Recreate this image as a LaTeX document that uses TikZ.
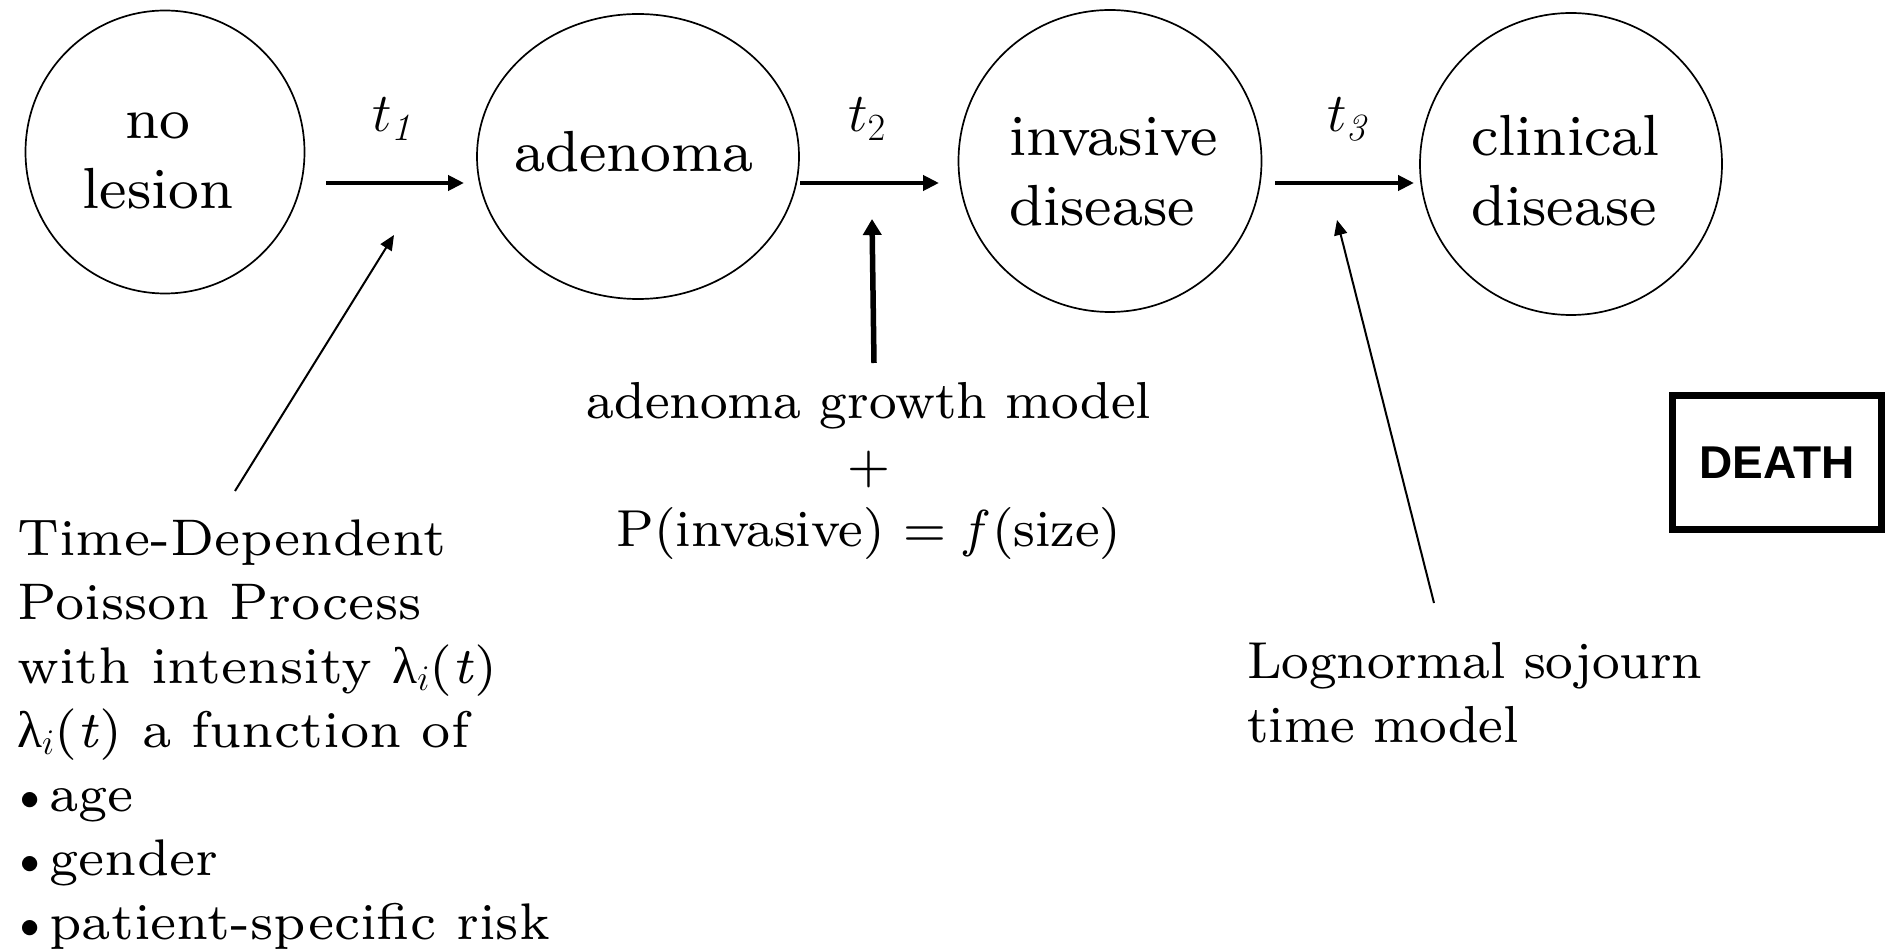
\RequirePackage{fix-cm}
\documentclass[tikz,border=0pt]{standalone}
\usepackage{fontspec}
\newfontfamily\deathfont{Liberation Sans}
\newfontfamily\greekfont{Liberation Serif}
\newfontfamily\lmseven{lmroman7-regular.otf}[ItalicFont=lmroman7-italic.otf]
\newfontfamily\lmeight{lmroman8-regular.otf}[ItalicFont=lmroman8-italic.otf]
\usetikzlibrary{shapes.geometric,arrows.meta}
\newcommand{\lamit}{{\greekfont λ}$_{i}$(\textit{t})}
\newcommand{\bul}{\kern-10pt\textbullet\kern-3pt}
\begin{document}
\begin{tikzpicture}[x=1pt,y=-1pt,
  state/.style={draw, ellipse, line width=1.7pt, inner sep=0pt},
  stext/.style={font={\lmeight\fontsize{58}{70}\selectfont}, inner sep=0pt},
  ann/.style={font={\lmeight\fontsize{52}{64}\selectfont}, inner sep=0pt},
  pann/.style={font={\lmseven\fontsize{51.5}{64}\selectfont}, inner sep=0pt},
  tlab/.style={font=\fontsize{55}{60}\selectfont, inner sep=0pt, anchor=base},
  trans/.style={line width=4pt, -{Triangle[length=16pt,width=15pt]}},
  thinarrow/.style={line width=2pt, -{Triangle[length=15pt,width=13pt]}},
  thickarrow/.style={line width=5.5pt, -{Triangle[length=16pt,width=18pt]}},
  deathbox/.style={draw, line width=7pt, minimum width=209pt, minimum height=134pt, inner sep=0pt, font=\deathfont\bfseries\fontsize{46}{50}\selectfont},
]
\useasboundingbox (0,0) rectangle (1891,949);

% states
\node[state, minimum width=279pt, minimum height=283pt] (nl) at (165,152) {};
\node[state, minimum width=322pt, minimum height=285pt] (ad) at (638,156.5) {};
\node[state, minimum width=303pt, minimum height=302pt] (inv) at (1110,161) {};
\node[state, minimum width=302pt, minimum height=302pt] (cl) at (1571,164) {};

\node[stext, anchor=north, align=center] (nltext) at (158,90) {\rule{0pt}{48pt}no\\lesion};
\node[stext, anchor=base] (adtext) at (634,172) {adenoma};
\node[stext, anchor=north west, align=left] (invtext) at (1009,107) {\rule{0pt}{48pt}invasive\\disease};
\node[stext, anchor=north west, align=left] (cltext) at (1471,107) {\rule{0pt}{48pt}clinical\\disease};

% transitions
\coordinate (a1s) at (326,183); \coordinate (a1e) at (464,183);
\coordinate (a2s) at (800,183); \coordinate (a2e) at (939,183);
\coordinate (a3s) at (1275,183); \coordinate (a3e) at (1414,183);
\draw[trans] (a1s) -- (a1e);
\draw[trans] (a2s) -- (a2e);
\draw[trans] (a3s) -- (a3e);

\node[tlab] (t1) at (392,132) {$t_{\mathit{1}}$};
\node[tlab] (t2) at (867,132) {$t_2$};
\node[tlab] (t3) at (1347,132) {$t_{\mathit{3}}$};

% death
\node[deathbox] (death) at (1777,462.5) {DEATH};

% annotations
\node[pann, anchor=north west, align=left] (pois) at (17,507)
  {\rule{0pt}{48pt}Time-Dependent\\
   Poisson Process\\
   with intensity \lamit\\
   \lamit{} a function of\\
   \bul age\\
   \bul gender\\
   \bul patient-specific risk};

\node[ann, anchor=north, align=center] (growth) at (869,370)
  {\rule{0pt}{48pt}adenoma growth model\\
   +\\
   P(invasive) = \textit{f}\kern3pt(size)};

\node[ann, anchor=north west, align=left] (logn) at (1247,630)
  {\rule{0pt}{48pt}Lognormal sojourn\\
   time model};

% annotation arrows
\coordinate (ptail) at (235,491); \coordinate (ptip) at (394,235);
\coordinate (gtail) at (874,363); \coordinate (gtip) at (872,219);
\coordinate (ltail) at (1434,603); \coordinate (ltip) at (1337,220);
\draw[thinarrow] (ptail) -- (ptip);
\draw[thickarrow] (gtail) -- (gtip);
\draw[thinarrow] (ltail) -- (ltip);
\end{tikzpicture}
\end{document}
